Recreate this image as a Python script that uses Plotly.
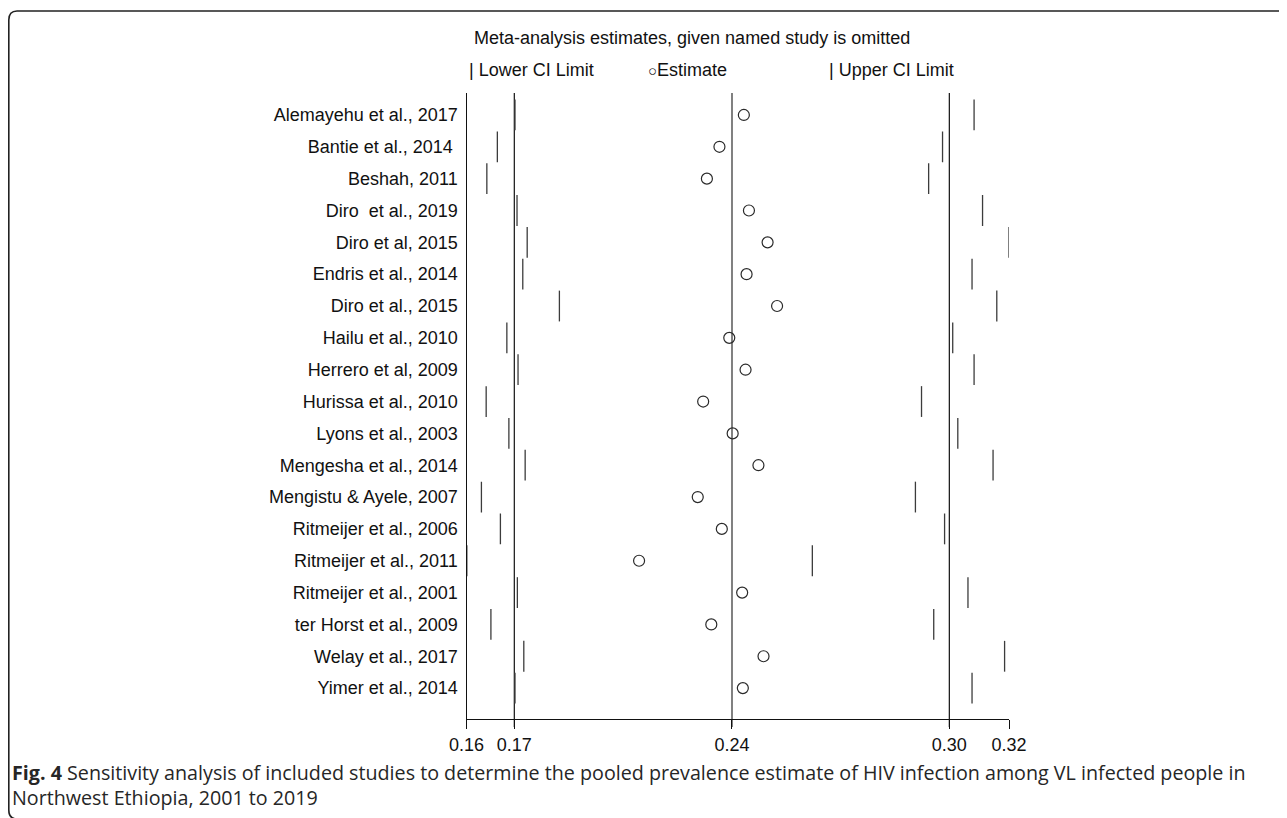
import plotly.graph_objects as go

studies = ["Alemayehu et al., 2017", "Bantie et al., 2014 ", "Beshah, 2011", "Diro  et al., 2019",
           "Diro et al, 2015", "Endris et al., 2014", "Diro et al., 2015", "Hailu et al., 2010",
           "Herrero et al, 2009", "Hurissa et al., 2010", "Lyons et al., 2003", "Mengesha et al., 2014",
           "Mengistu & Ayele, 2007", "Ritmeijer et al., 2006", "Ritmeijer et al., 2011",
           "Ritmeijer et al., 2001", "ter Horst et al., 2009", "Welay et al., 2017", "Yimer et al., 2014"]
lower = [0.1743, 0.1691, 0.1660, 0.1749, 0.1779, 0.1766, 0.1874, 0.1719, 0.1752, 0.1658,
         0.1725, 0.1773, 0.1644, 0.1700, 0.1601, 0.1750, 0.1672, 0.1769, 0.1743]
estimate = [0.2418, 0.2346, 0.2309, 0.2433, 0.2488, 0.2426, 0.2516, 0.2375, 0.2423, 0.2298,
            0.2385, 0.2461, 0.2282, 0.2353, 0.2109, 0.2413, 0.2322, 0.2476, 0.2415]
upper = [0.3097, 0.3004, 0.2963, 0.3122, 0.3200, 0.3091, 0.3164, 0.3034, 0.3097, 0.2942,
         0.3049, 0.3153, 0.2924, 0.3010, 0.2620, 0.3079, 0.2978, 0.3187, 0.3091]
overall = [0.1741, 0.2383, 0.3024]          # pooled lower, estimate, upper
axis_ticks = [0.16, 0.1741, 0.2383, 0.3024, 0.32]
axis_ticktext = ["0.16", "0.17", "0.24", "0.30", "0.32"]

OFF = 8                      # page body margin
W, H = 1287 - OFF, 818 - OFF
def px(x):
    return (x - OFF) / W
def py(y):
    return 1 - (y - OFF) / H

FONT = "Liberation Sans Narrow, Arial Narrow, Liberation Sans, Arial, sans-serif"
CAP = "Open Sans, sans-serif"
FS = 18

fig = go.Figure()
tick_marker = dict(symbol="line-ns", size=22, line=dict(color="#3c3c3c", width=1.3))
fig.add_trace(go.Scatter(x=lower, y=studies, mode="markers", marker=tick_marker,
                         showlegend=False, hoverinfo="x+y"))
fig.add_trace(go.Scatter(x=estimate, y=studies, mode="markers",
                         marker=dict(symbol="circle-open", size=11, color="#2a2a2a", line=dict(width=1.2)),
                         showlegend=False, hoverinfo="x+y"))
fig.add_trace(go.Scatter(x=upper, y=studies, mode="markers", marker=tick_marker,
                         showlegend=False, hoverinfo="x+y"))

for i, v in enumerate(overall):
    fig.add_shape(type="line", xref="x", yref="paper", x0=v, x1=v, y0=py(727), y1=py(93),
                  line=dict(color="#808080" if i == 1 else "#111111", width=2 if i == 1 else 1.2),
                  layer="below")

# rounded frame (bottom edge lies just below the visible page)
path = (f"M {px(1300)},{py(11)} L {px(17)},{py(11)} Q {px(8.8)},{py(11)} {px(8.8)},{py(20)} "
        f"L {px(8.8)},{py(810)} Q {px(8.8)},{py(819)} {px(17)},{py(819)} L {px(1300)},{py(819)}")
fig.add_shape(type="path", xref="paper", yref="paper", path=path,
              line=dict(color="#222222", width=1.6))

ann = [
    dict(x=px(472), y=py(38), text="Meta-analysis estimates, given named study is omitted",
         xanchor="left", yanchor="middle", font=dict(size=FS)),
    dict(x=px(467), y=py(70), text="| Lower CI Limit", xanchor="left", yanchor="middle", font=dict(size=FS)),
    dict(x=px(646), y=py(70), text="<span style='font-size:15px'>○</span>Estimate", xanchor="left",
         yanchor="middle", font=dict(size=FS)),
    dict(x=px(827), y=py(70), text="| Upper CI Limit", xanchor="left", yanchor="middle", font=dict(size=FS)),
    dict(x=px(10), y=py(772), text="<b>Fig. 4</b> Sensitivity analysis of included studies to determine the pooled prevalence estimate of HIV infection among VL infected people in",
         xanchor="left", yanchor="middle", font=dict(size=19.7, family=CAP, color="#262626")),
    dict(x=px(10), y=py(797), text="Northwest Ethiopia, 2001 to 2019",
         xanchor="left", yanchor="middle", font=dict(size=19.7, family=CAP, color="#262626")),
]
for a in ann:
    a.update(xref="paper", yref="paper", showarrow=False)
    a["font"].setdefault("family", FONT)
    a["font"].setdefault("color", "#111111")
    fig.add_annotation(**a)

fig.update_layout(
    width=W, height=H, margin=dict(l=0, r=0, t=0, b=0, pad=0, autoexpand=False),
    paper_bgcolor="white", plot_bgcolor="white",
    font=dict(family=FONT, size=FS, color="#111111"),
    xaxis=dict(domain=[px(466.5), px(1009)], range=[0.16, 0.32], showgrid=False, zeroline=False,
               automargin=False, showline=True, linecolor="#111111", linewidth=1.2,
               ticks="outside", ticklen=9, tickcolor="#111111", tickwidth=1.2,
               tickvals=axis_ticks, ticktext=axis_ticktext, tickfont=dict(size=FS, family=FONT)),
    yaxis=dict(domain=[py(719), py(93)], type="category", categoryorder="array", categoryarray=studies,
               automargin=False, range=[18.97, -0.69], showgrid=False, zeroline=False, showline=True,
               linecolor="#111111", linewidth=1.2, ticks="", ticklabelstandoff=4,
               tickfont=dict(size=FS, family=FONT)),
)
fig.write_html("out.html")
